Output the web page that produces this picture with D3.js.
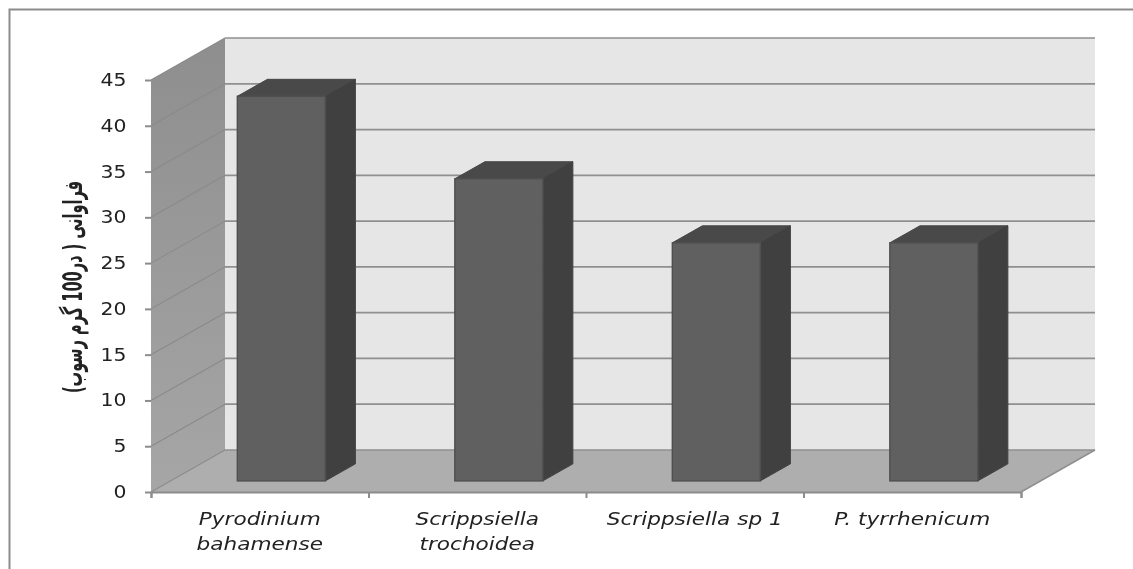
<!DOCTYPE html>
<html>
<head>
  <meta charset="utf-8">
  <title>Abundance chart</title>
  <style>
    html, body { margin: 0; padding: 0; background: #fff; }
    svg { display: block; }
    text { fill: #222; }
  </style>
</head>
<body>
  <div id="chart"></div>

  <script src="https://cdn.jsdelivr.net/npm/d3@7"></script>
  <script type="text/javascript">

  var categories = ['Pyrodinium bahamense', 'Scrippsiella trochoidea', 'Scrippsiella sp 1', 'P. tyrrhenicum'];
  var categoryLines = [['Pyrodinium', 'bahamense'], ['Scrippsiella', 'trochoidea'], ['Scrippsiella sp 1'], ['P. tyrrhenicum']];
  var values = [42, 33, 26, 26];
  var yTicks = [0, 5, 10, 15, 20, 25, 30, 35, 40, 45];
  var yTitle = 'فراوانی ( در100 گرم رسوب)';

  var width = 1133, height = 569;

  // front plane of the box, the back wall sits at depth (74, -42)
  var leftX = 151, rightX = 1021, bottomY = 492, topY = 80;
  var depthX = 74, depthY = -42;
  var barFrontX = 0.265, barDepthX = 30, barDepthY = -17;

  var y = d3.scaleLinear().domain([0, 45]).range([bottomY, topY]);
  var x = d3.scaleBand().domain(categories).range([leftX, rightX]).paddingInner(0).paddingOuter(0);
  var barW = 88;

  // the reference text is stretched sideways
  var stretch = 1.2;

  var svg = d3.select('#chart')
              .append('svg')
              .attr('width', width)
              .attr('height', height);

  var defs = svg.append('defs');
  var grad = defs.append('linearGradient').attr('id', 'wall')
      .attr('x1', 0).attr('y1', 0).attr('x2', 0).attr('y2', 1);
  grad.append('stop').attr('offset', '0%').attr('stop-color', '#8e8e8e');
  grad.append('stop').attr('offset', '100%').attr('stop-color', '#a6a6a6');
  defs.append('filter').attr('id', 'soft')
      .append('feGaussianBlur').attr('stdDeviation', 0.5);

  function poly(pts){
    return pts.map(function(p){ return p.join(','); }).join(' ');
  }

  // outer frame, only top and left show
  svg.append('path')
      .attr('d', 'M9.5,' + height + 'V9.5H' + width)
      .attr('fill', 'none')
      .attr('stroke', '#8c8c8c')
      .attr('stroke-width', 2);

  var g = svg.append('g').attr('filter', 'url(#soft)');

  // back wall
  g.append('rect')
      .attr('x', leftX + depthX)
      .attr('y', y(45) + depthY)
      .attr('width', rightX - leftX)
      .attr('height', y(0) - y(45))
      .attr('fill', '#e6e6e6');

  // side wall
  g.append('polygon')
      .attr('points', poly([[leftX, y(45)], [leftX + depthX, y(45) + depthY], [leftX + depthX, y(0) + depthY], [leftX, y(0)]]))
      .attr('fill', 'url(#wall)');

  // floor
  g.append('polygon')
      .attr('points', poly([[leftX, y(0)], [leftX + depthX, y(0) + depthY], [rightX + depthX, y(0) + depthY], [rightX, y(0)]]))
      .attr('fill', '#aeaeae');

  // gridlines on the back wall and side wall
  g.selectAll('.grid')
      .data(yTicks)
      .enter().append('line')
      .attr('class', 'grid')
      .attr('x1', leftX + depthX)
      .attr('x2', rightX + depthX)
      .attr('y1', function(d){ return y(d) + depthY; })
      .attr('y2', function(d){ return y(d) + depthY; })
      .attr('stroke', '#8f8f8f')
      .attr('stroke-width', 1.7);

  g.selectAll('.sidegrid')
      .data(yTicks)
      .enter().append('line')
      .attr('class', 'sidegrid')
      .attr('x1', leftX)
      .attr('x2', leftX + depthX)
      .attr('y1', function(d){ return y(d); })
      .attr('y2', function(d){ return y(d) + depthY; })
      .attr('stroke', '#8a8a8a')
      .attr('stroke-width', 1.1);

  // floor edge towards the right
  g.append('line')
      .attr('x1', rightX).attr('y1', y(0))
      .attr('x2', rightX + depthX).attr('y2', y(0) + depthY)
      .attr('stroke', '#8f8f8f')
      .attr('stroke-width', 1.5);

  // bars
  var baseY = bottomY + depthY * barFrontX;
  function barX(d, i){
    return x(categories[i]) + x.bandwidth() / 2 - barW / 2 + depthX * barFrontX + 2;
  }
  function barTop(d){
    return y(d) + depthY * barFrontX;
  }

  var bars = g.selectAll('.bar')
      .data(values)
      .enter().append('g')
      .attr('class', 'bar');

  bars.append('polygon')
      .attr('points', function(d, i){
        var x0 = barX(d, i);
        return poly([[x0, barTop(d)], [x0 + barDepthX, barTop(d) + barDepthY], [x0 + barW + barDepthX, barTop(d) + barDepthY], [x0 + barW, barTop(d)]]);
      })
      .attr('fill', '#4a4a4a')
      .attr('stroke', '#454545');

  bars.append('polygon')
      .attr('points', function(d, i){
        var x0 = barX(d, i) + barW;
        return poly([[x0, barTop(d)], [x0 + barDepthX, barTop(d) + barDepthY], [x0 + barDepthX, baseY + barDepthY], [x0, baseY]]);
      })
      .attr('fill', '#404040')
      .attr('stroke', '#404040');

  bars.append('rect')
      .attr('x', barX)
      .attr('y', barTop)
      .attr('width', barW)
      .attr('height', function(d){ return baseY - barTop(d); })
      .attr('fill', '#606060')
      .attr('stroke', '#505050')
      .attr('stroke-width', 1.5);

  // axes
  var yAxis = d3.axisLeft(y).tickValues(yTicks).tickSize(6);
  var yG = g.append('g').attr('transform', 'translate(' + leftX + ',0)').call(yAxis);

  var edges = d3.scaleLinear().domain([0, categories.length]).range([leftX, rightX]);
  var xAxis = d3.axisBottom(edges).tickValues(d3.range(categories.length + 1)).tickSize(6).tickFormat('');
  var xG = g.append('g').attr('transform', 'translate(0,' + bottomY + ')').call(xAxis);

  [yG, xG].forEach(function(a){
    a.selectAll('path, line').attr('stroke', '#8c8c8c').attr('stroke-width', 2);
  });
  yG.select('.domain').remove();
  yG.selectAll('text')
      .attr('font-family', '"DejaVu Sans", sans-serif')
      .attr('font-size', 17)
      .attr('fill', '#222')
      .attr('x', -24.5 / stretch)
      .attr('transform', 'scale(' + stretch + ',1)');

  // category labels
  var labels = g.selectAll('.cat')
      .data(categories)
      .enter().append('text')
      .attr('class', 'cat')
      .attr('text-anchor', 'middle')
      .attr('font-family', '"DejaVu Sans", sans-serif')
      .attr('font-style', 'oblique')
      .attr('font-size', 18)
      .attr('transform', function(d){
        return 'translate(' + (x(d) + x.bandwidth() / 2) + ',0) scale(' + stretch + ',1)';
      });

  labels.selectAll('tspan')
      .data(function(d, i){ return categoryLines[i]; })
      .enter().append('tspan')
      .attr('x', 0)
      .attr('y', function(d, i){ return 525 + i * 25; })
      .text(function(d){ return d; });

  // axis title, tall and squeezed along its length
  g.append('text')
      .attr('transform', 'translate(82,287) rotate(-90) scale(0.56,1)')
      .attr('text-anchor', 'middle')
      .attr('direction', 'rtl')
      .attr('font-family', '"DejaVu Sans", sans-serif')
      .attr('font-weight', 'bold')
      .attr('font-size', 26)
      .attr('fill', '#000')
      .text(yTitle);

  </script>
</body>
</html>
